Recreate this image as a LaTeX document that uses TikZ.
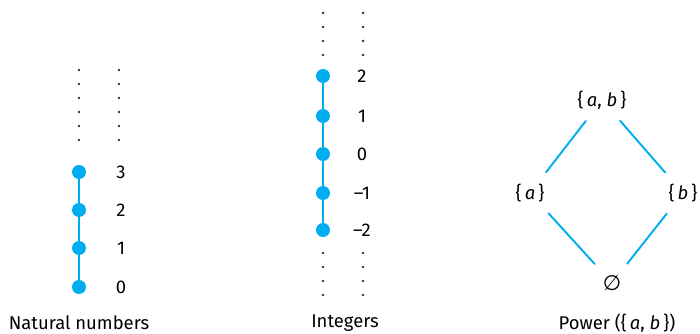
\documentclass[tikz,border=0pt]{standalone}
\usepackage{fontspec}
\setmainfont{Fira Sans}
\newfontfamily\symfont{DejaVu Sans}
\definecolor{poscyan}{RGB}{0,174,239}
\begin{document}
\begin{tikzpicture}[x=0.02cm, y=-0.02cm, font=\fontsize{10.5}{12}\selectfont, line cap=round]
	\tikzset{elt/.style={circle, fill=poscyan, inner sep=0pt, minimum size=0.28cm},
		chainline/.style={draw=poscyan, line width=1.2pt},
		vdot/.style={circle, fill=black!80, inner sep=0pt, minimum size=1.7pt},
		hasse/.style={draw=poscyan, line width=1.1pt, shorten <=4pt, shorten >=4pt}}
	\useasboundingbox (0,0) rectangle (700,334);
	% Natural numbers
	\foreach \n/\y in {0/287,1/248,2/210,3/172}{
		\node[elt] (nat\n) at (79,\y) {};
		\node (natlab\n) at (121,\y) {\n};
	}
	\draw[chainline] (nat0) -- (nat1) -- (nat2) -- (nat3);
	\foreach \y in {70,84,...,140}{
		\node[vdot] (natdl\y) at (79,\y) {};
		\node[vdot] (natdr\y) at (119,\y) {};
	}
	\node (capnat) at (79,323) {Natural numbers};
	% Integers
	\foreach \n/\t/\y in {m2/\textendash2/230,m1/\textendash1/193,0/0/154,1/1/116,2/2/76}{
		\node[elt] (int\n) at (323,\y) {};
		\node (intlab\n) at (362,\y) {\t};
	}
	\draw[chainline] (intm2) -- (intm1) -- (int0) -- (int1) -- (int2);
	\foreach \y in {13,27,...,56}{
		\node[vdot] (inttl\y) at (323,\y) {};
		\node[vdot] (inttr\y) at (363,\y) {};
	}
	\foreach \y in {253,267,...,296}{
		\node[vdot] (intbl\y) at (323,\y) {};
		\node[vdot] (intbr\y) at (363,\y) {};
	}
	\node (capint) at (345,323) {Integers};
	% Power set of {a,b}
	\node (ab) at (602,100) {\{\,\textit{a}, \textit{b}\,\}};
	\node (a) at (530,193) {\{\,\textit{a}\,\}};
	\node (b) at (683,193) {\{\,\textit{b}\,\}};
	\node (e) at (612,283) {\symfont\fontsize{12}{14}\selectfont ∅};
	\draw[hasse] (ab) -- (a);
	\draw[hasse] (ab) -- (b);
	\draw[hasse] (a) -- (e);
	\draw[hasse] (b) -- (e);
	\node (cappow) at (617,323) {Power (\{\,\textit{a}, \textit{b}\,\})};
\end{tikzpicture}
\end{document}
